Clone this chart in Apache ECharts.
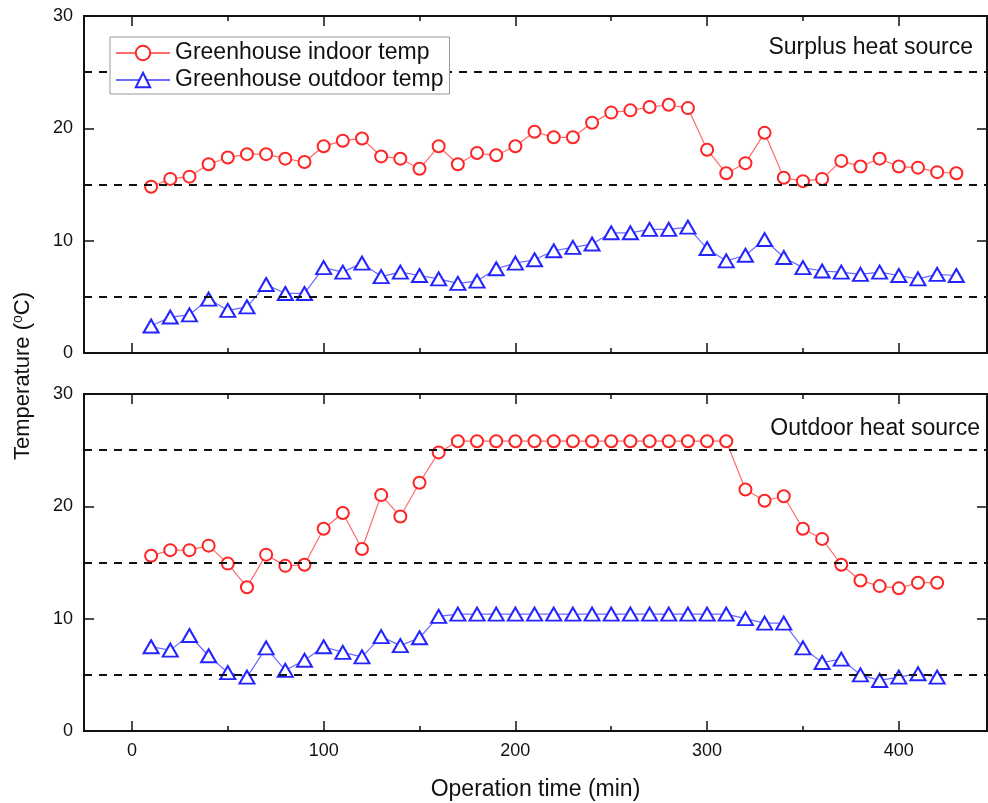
<!DOCTYPE html>
<html><head><meta charset="utf-8">
<script src="https://cdn.jsdelivr.net/npm/echarts@6/dist/echarts.min.js"></script>
<style>html,body{margin:0;padding:0;background:#fff}#c{width:988px;height:803px}</style>
</head><body><div id="c"></div>
<script>
// ---- data ----
const timeTop = [10,20,30,40,50,60,70,80,90,100,110,120,130,140,150,160,170,180,190,200,210,220,230,240,250,260,270,280,290,300,310,320,330,340,350,360,370,380,390,400,410,420,430];
const surplusIndoor = [14.8,15.5,15.7,16.8,17.4,17.7,17.7,17.3,17.0,18.4,18.9,19.1,17.5,17.3,16.4,18.4,16.8,17.8,17.6,18.4,19.7,19.2,19.2,20.5,21.4,21.6,21.9,22.1,21.8,18.1,16.0,16.9,19.6,15.6,15.3,15.5,17.1,16.6,17.3,16.6,16.5,16.1,16.0];
const surplusOutdoor = [2.4,3.2,3.4,4.8,3.8,4.1,6.1,5.3,5.3,7.6,7.2,8.0,6.8,7.2,6.9,6.6,6.2,6.4,7.5,8.0,8.3,9.1,9.4,9.7,10.7,10.7,11.0,11.0,11.2,9.3,8.2,8.7,10.1,8.5,7.6,7.3,7.2,7.0,7.2,6.9,6.6,7.0,6.9];
const timeBottom = [10,20,30,40,50,60,70,80,90,100,110,120,130,140,150,160,170,180,190,200,210,220,230,240,250,260,270,280,290,300,310,320,330,340,350,360,370,380,390,400,410,420];
const outdoorIndoor = [15.6,16.1,16.1,16.5,14.9,12.8,15.7,14.7,14.8,18.0,19.4,16.2,21.0,19.1,22.1,24.8,25.8,25.8,25.8,25.8,25.8,25.8,25.8,25.8,25.8,25.8,25.8,25.8,25.8,25.8,25.8,21.5,20.5,20.9,18.0,17.1,14.8,13.4,12.9,12.7,13.2,13.2];
const outdoorOutdoor = [7.5,7.2,8.5,6.7,5.2,4.8,7.4,5.4,6.3,7.5,7.0,6.6,8.4,7.6,8.3,10.2,10.4,10.4,10.4,10.4,10.4,10.4,10.4,10.4,10.4,10.4,10.4,10.4,10.4,10.4,10.4,10.0,9.6,9.6,7.4,6.1,6.4,5.0,4.5,4.8,5.1,4.8];
const xMajorTicks = [0,100,200,300,400];
const xMinorTicks = [50,150,250,350];
const xLabelValues = [0,100,200,300,400];
const yTickValues = [0,10,20,30];
const referenceLevels = [5,15,25];
const seriesNames = ['Greenhouse indoor temp','Greenhouse outdoor temp'];
const panelTitles = ['Surplus heat source','Outdoor heat source'];
const xTitle = 'Operation time (min)';

// ---- chart ----
const FONT = 'Liberation Sans, Arial, sans-serif';
const chart = echarts.init(document.getElementById('c'), null, {renderer:'canvas'});
const grids = [
  {left:84, top:16, width:903, height:337},
  {left:84, top:394, width:903, height:337}
];
function tick(values, len){
  return {show:true, inside:true, length:len, customValues:values, lineStyle:{color:'#111', width:1.5}};
}
const X_MIN = -25, X_MAX = 446;
const xAxes = [], yAxes = [];
grids.forEach((g, gi) => {
  const bottomPanel = gi === 1;
  const base = {type:'value', gridIndex:gi, min:X_MIN, max:X_MAX,
    axisLine:{show:false, onZero:false}, splitLine:{show:false}};
  xAxes.push(Object.assign({}, base, {
    position:'bottom', axisTick:tick(xMajorTicks, 10),
    axisLabel:{show:bottomPanel, customValues:xLabelValues, fontSize:18, color:'#111', fontFamily:FONT, margin:11},
    name: bottomPanel ? xTitle : '', nameLocation:'middle', nameGap:47,
    nameTextStyle:{fontSize:23, color:'#111', fontFamily:FONT}
  }));
  xAxes.push(Object.assign({}, base, {position:'bottom', axisTick:tick(xMinorTicks, 5), axisLabel:{show:false}}));
  xAxes.push(Object.assign({}, base, {position:'top', axisTick:tick(xMajorTicks, 10), axisLabel:{show:false}}));
  xAxes.push(Object.assign({}, base, {position:'top', axisTick:tick(xMinorTicks, 5), axisLabel:{show:false}}));
  const ybase = {type:'value', gridIndex:gi, min:0, max:30, interval:10,
    axisLine:{show:false, onZero:false}, splitLine:{show:false}};
  yAxes.push(Object.assign({}, ybase, {
    position:'left', axisTick:tick(yTickValues, 10),
    axisLabel:{fontSize:18, color:'#111', fontFamily:FONT, margin:11}
  }));
  yAxes.push(Object.assign({}, ybase, {position:'right', axisTick:tick(yTickValues, 10), axisLabel:{show:false}}));
});

function pairs(xs, ys){ return xs.map((x,i)=>[x, ys[i]]); }
const refLine = {
  silent:true, symbol:['none','none'], label:{show:false},
  lineStyle:{color:'#111', type:[8,7], width:2},
  data: referenceLevels.map(v=>({yAxis:v}))
};
function indoor(gi, xs, ys){
  return {
    name:seriesNames[0], type:'line', xAxisIndex:gi*4, yAxisIndex:gi*2,
    data:pairs(xs, ys), symbol:'emptyCircle', symbolSize:12,
    itemStyle:{color:'#ff2424', borderWidth:1.4},
    lineStyle:{color:'#ff6a6a', width:1.2}, z:3,
    markLine: refLine
  };
}
function outdoor(gi, xs, ys){
  return {
    name:seriesNames[1], type:'line', xAxisIndex:gi*4, yAxisIndex:gi*2,
    data:pairs(xs, ys), symbol:'emptyTriangle', symbolSize:[15,13],
    itemStyle:{color:'#2424ff', borderWidth:1.4},
    lineStyle:{color:'#6a6aff', width:1.2}, z:3
  };
}

chart.setOption({
  animation:false,
  backgroundColor:'#fff',
  grid: grids.map(g=>Object.assign({show:true, borderColor:'#111', borderWidth:2, backgroundColor:'transparent'}, g)),
  xAxis:xAxes, yAxis:yAxes,
  legend:{
    data:seriesNames, orient:'vertical', left:110, top:37,
    itemWidth:54, itemHeight:18, itemGap:1,
    padding:[3,6,1,5],
    borderColor:'#999', borderWidth:1, backgroundColor:'#fff', z:10,
    textStyle:{fontSize:23, color:'#111', fontFamily:FONT, lineHeight:26}
  },
  series:[
    indoor(0, timeTop, surplusIndoor),
    outdoor(0, timeTop, surplusOutdoor),
    indoor(1, timeBottom, outdoorIndoor),
    outdoor(1, timeBottom, outdoorOutdoor)
  ],
  graphic:[
    {type:'text', right:15, top:36, style:{text:panelTitles[0], fontSize:23, fill:'#111', fontFamily:FONT}},
    {type:'text', right:8, top:417, style:{text:panelTitles[1], fontSize:23, fill:'#111', fontFamily:FONT}},
    {type:'text', x:11, y:376, rotation:Math.PI/2,
     style:{text:'Temperature ({s|o}C)', fontSize:22, fill:'#111', fontFamily:FONT,
            align:'center', verticalAlign:'top',
            rich:{s:{fontSize:14, fontFamily:FONT, fill:'#111', verticalAlign:'top', padding:[0,0,9,0]}}}}
  ]
});
</script></body></html>
